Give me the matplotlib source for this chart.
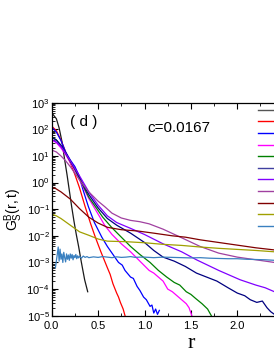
import numpy as np
import matplotlib
matplotlib.use("Agg")
import matplotlib.pyplot as plt
from matplotlib.ticker import MultipleLocator, LogLocator, NullFormatter, FuncFormatter

plt.rcParams['font.family'] = ['Liberation Sans', 'DejaVu Sans']
plt.rcParams['mathtext.fontset'] = 'custom'
plt.rcParams['mathtext.rm'] = 'Liberation Sans'
plt.rcParams['mathtext.it'] = 'Liberation Sans:italic'

# ---------------- data (r, log10 G) ----------------
black_r = [0.0, 0.05, 0.08, 0.11, 0.14, 0.165, 0.19, 0.215, 0.24, 0.265, 0.29, 0.32, 0.355, 0.388]
black_g = [2.62, 2.4, 2.05, 1.55, 0.85, 0.3, -0.3, -0.9, -1.45, -1.95, -2.4, -3.0, -3.65, -4.1]

red_r = [0.0, 0.05, 0.1, 0.15, 0.2, 0.25, 0.3, 0.36, 0.42, 0.47, 0.53, 0.6, 0.63, 0.66, 0.7, 0.72, 0.74, 0.77, 0.79]
red_g = [2.12, 1.95, 1.6, 1.15, 0.75, 0.3, -0.2, -0.9, -1.55, -2.05, -2.6, -3.2, -3.45, -3.8, -4.15, -4.3, -4.5, -4.75, -5.0]

blue_r = [0.0, 0.05, 0.1, 0.15, 0.2, 0.25, 0.29, 0.34, 0.395, 0.46, 0.54, 0.6, 0.66, 0.72, 0.76, 0.79, 0.85, 0.88, 0.92, 0.95, 0.99, 1.02, 1.06, 1.08, 1.1, 1.12, 1.14, 1.16]
blue_g = [2.08, 1.9, 1.58, 1.15, 0.85, 0.6, 0.3, -0.3, -0.9, -1.5, -2.05, -2.4, -2.7, -3.0, -3.1, -3.3, -3.55, -3.6, -3.9, -4.05, -4.3, -4.4, -4.65, -4.6, -4.9, -4.75, -4.95, -4.8]

magenta_r = [0.0, 0.05, 0.1, 0.15, 0.2, 0.25, 0.3, 0.35, 0.4, 0.46, 0.52, 0.57, 0.65, 0.75, 0.85, 0.95, 1.05, 1.1, 1.15, 1.2, 1.25, 1.3, 1.35, 1.4, 1.45, 1.48, 1.51]
magenta_g = [1.6, 1.5, 1.3, 1.05, 0.75, 0.45, 0.1, -0.25, -0.6, -0.95, -1.3, -1.6, -1.95, -2.3, -2.6, -2.95, -3.3, -3.4, -3.55, -3.7, -4.0, -4.1, -4.25, -4.4, -4.55, -4.7, -5.0]

green_r = [0.0, 0.05, 0.1, 0.15, 0.2, 0.25, 0.3, 0.35, 0.4, 0.48, 0.55, 0.65, 0.75, 0.85, 0.95, 1.06, 1.15, 1.24, 1.32, 1.38, 1.45, 1.5, 1.55, 1.62, 1.68, 1.72]
green_g = [1.72, 1.6, 1.38, 1.1, 0.8, 0.5, 0.15, -0.2, -0.55, -0.95, -1.3, -1.7, -2.05, -2.4, -2.7, -3.0, -3.3, -3.55, -3.75, -3.85, -4.1, -4.2, -4.35, -4.55, -4.75, -5.0]

navy_r = [0.0, 0.05, 0.1, 0.15, 0.2, 0.25, 0.3, 0.35, 0.4, 0.5, 0.6, 0.7, 0.85, 1.0, 1.1, 1.2, 1.32, 1.44, 1.56, 1.67, 1.78, 1.9, 2.0, 2.08, 2.14, 2.21, 2.27, 2.32, 2.36, 2.4]
navy_g = [1.7, 1.6, 1.4, 1.12, 0.82, 0.52, 0.2, -0.15, -0.45, -0.95, -1.35, -1.6, -1.9, -2.25, -2.55, -2.8, -2.95, -3.15, -3.4, -3.55, -3.7, -3.95, -4.15, -4.25, -4.4, -4.5, -4.45, -4.7, -4.85, -4.95]

violet_r = [0.0, 0.05, 0.1, 0.15, 0.2, 0.3, 0.4, 0.5, 0.6, 0.7, 0.85, 1.0, 1.2, 1.4, 1.56, 1.8, 2.03, 2.2, 2.3, 2.4]
violet_g = [1.62, 1.52, 1.35, 1.1, 0.82, 0.25, -0.35, -0.85, -1.25, -1.5, -1.72, -1.95, -2.3, -2.6, -2.9, -3.3, -3.65, -3.85, -3.95, -4.1]

purple_r = [0.0, 0.05, 0.1, 0.15, 0.2, 0.3, 0.4, 0.5, 0.57, 0.65, 0.75, 0.85, 0.95, 1.05, 1.2, 1.38, 1.6, 1.8, 2.0, 2.2, 2.4]
purple_g = [1.22, 1.15, 1.0, 0.82, 0.6, 0.1, -0.35, -0.7, -0.9, -1.15, -1.33, -1.42, -1.47, -1.55, -1.75, -2.04, -2.4, -2.65, -2.8, -2.9, -3.0]

darkred_r = [0.0, 0.04, 0.1, 0.2, 0.3, 0.4, 0.5, 0.6, 0.75, 0.93, 1.1, 1.3, 1.44, 1.6, 1.8, 2.0, 2.2, 2.4]
darkred_g = [-0.18, -0.22, -0.35, -0.62, -0.98, -1.3, -1.52, -1.68, -1.77, -1.82, -1.9, -2.0, -2.05, -2.15, -2.25, -2.35, -2.45, -2.53]

olive_r = [0.0, 0.05, 0.1, 0.2, 0.3, 0.4, 0.5, 0.6, 0.8, 1.0, 1.2, 1.4, 1.6, 1.8, 2.0, 2.2, 2.4]
olive_g = [-1.18, -1.25, -1.35, -1.6, -1.85, -1.98, -2.12, -2.2, -2.22, -2.26, -2.32, -2.36, -2.42, -2.47, -2.51, -2.55, -2.6]

steel_r = [0.04, 0.05, 0.06, 0.07, 0.08, 0.09, 0.10, 0.11, 0.12, 0.13, 0.14, 0.15, 0.16, 0.17, 0.18,
           0.19, 0.20, 0.21, 0.22, 0.23, 0.24, 0.25, 0.26, 0.27, 0.28, 0.29, 0.30, 0.32, 0.34, 0.36,
           0.38, 0.40, 0.45, 0.5, 0.55, 0.6, 0.65, 0.7, 0.75, 0.8, 0.85, 0.9, 0.95, 1.0, 1.1, 1.2,
           1.3, 1.4, 1.5, 1.6, 1.7, 1.8, 1.9, 2.0, 2.1, 2.2, 2.3, 2.4]
steel_g = [-3.2, -2.95, -2.7, -2.42, -2.95, -2.5, -2.88, -2.68, -3.0, -2.62, -2.82, -2.98, -2.68, -2.88, -2.72,
           -2.92, -2.68, -2.84, -2.7, -2.9, -2.74, -2.82, -2.7, -2.86, -2.75, -2.83, -2.77, -2.84, -2.76, -2.81,
           -2.78, -2.82, -2.79, -2.81, -2.78, -2.8, -2.82, -2.79, -2.81, -2.8, -2.78, -2.81, -2.8, -2.8, -2.82, -2.8,
           -2.81, -2.82, -2.83, -2.82, -2.84, -2.85, -2.86, -2.86, -2.88, -2.89, -2.9, -2.92]

x_tick_labels = ['0.0', '0.5', '1.0', '1.5', '2.0']

series = [
    (black_r, black_g, '#1a1a1a'),
    (red_r, red_g, '#ff0000'),
    (blue_r, blue_g, '#0000ff'),
    (magenta_r, magenta_g, '#ff00ff'),
    (green_r, green_g, '#008000'),
    (navy_r, navy_g, '#000080'),
    (violet_r, violet_g, '#8000ff'),
    (purple_r, purple_g, '#a040a0'),
    (darkred_r, darkred_g, '#800000'),
    (olive_r, olive_g, '#a0a000'),
    (steel_r, steel_g, '#3a80c0'),
]
legend_colors = ['#555555', '#ff0000', '#0000ff', '#ff00ff', '#008000', '#4040a0',
                 '#8000ff', '#a040a0', '#800000', '#a0a000', '#3a80c0']

fig = plt.figure(figsize=(2.74, 3.55), dpi=100)
ax = fig.add_axes([51.7 / 274, 39.3 / 355, 278.4 / 274, 213 / 355])

handles = []
for (r, g, c), lc in zip(series, legend_colors):
    ax.plot(r, 10.0 ** np.array(g), color=c, lw=0.9)
    h, = ax.plot([], [], color=lc, lw=1.0)
    handles.append(h)

ax.set_yscale('log')
ax.set_xlim(0, 3.0)
ax.set_ylim(1e-5, 1e3)
ax.xaxis.set_major_locator(MultipleLocator(0.5))
ax.xaxis.set_minor_locator(MultipleLocator(0.25))


def xfmt(v, pos):
    i = int(round(v / 0.5))
    return x_tick_labels[i] if 0 <= i < len(x_tick_labels) else ''


ax.xaxis.set_major_formatter(FuncFormatter(xfmt))
ax.yaxis.set_major_locator(LogLocator(base=10, numticks=20))
ax.yaxis.set_minor_locator(LogLocator(base=10, subs=np.arange(2, 10), numticks=20))
ax.yaxis.set_minor_formatter(NullFormatter())
ax.tick_params(which='both', direction='in', top=True, right=True, labelsize=8)
ax.tick_params(axis='y', pad=1.5)
ax.tick_params(axis='x', pad=4)
ax.tick_params(which='major', length=4, width=0.8)
ax.tick_params(which='minor', length=2, width=0.6)
for s in ax.spines.values():
    s.set_linewidth(0.9)

ax.set_xlabel('r', family='Liberation Serif', fontsize=16, labelpad=2)
ax.set_ylabel(r'$\mathregular{G_S^B(r,t)}$', fontsize=10)
ax.yaxis.set_label_coords((25 - 51.7) / 278.4, 0.5)

fig.text(84 / 274, 1 - 122 / 355, '( d )', fontsize=11, ha='center', va='center')
fig.text(147 / 274, 1 - 128 / 355, 'c=0.0167', fontsize=11, ha='left', va='center')

ax.legend(handles, [''] * len(handles), loc='upper left',
          bbox_to_anchor=((258 - 51.7) / 278.4, 1 - (107 - 102.7) / 213),
          frameon=False, fontsize=6, labelspacing=0.45, handlelength=3.5,
          borderpad=0, borderaxespad=0, handletextpad=0.5)

fig.savefig('out.png', dpi=100)
